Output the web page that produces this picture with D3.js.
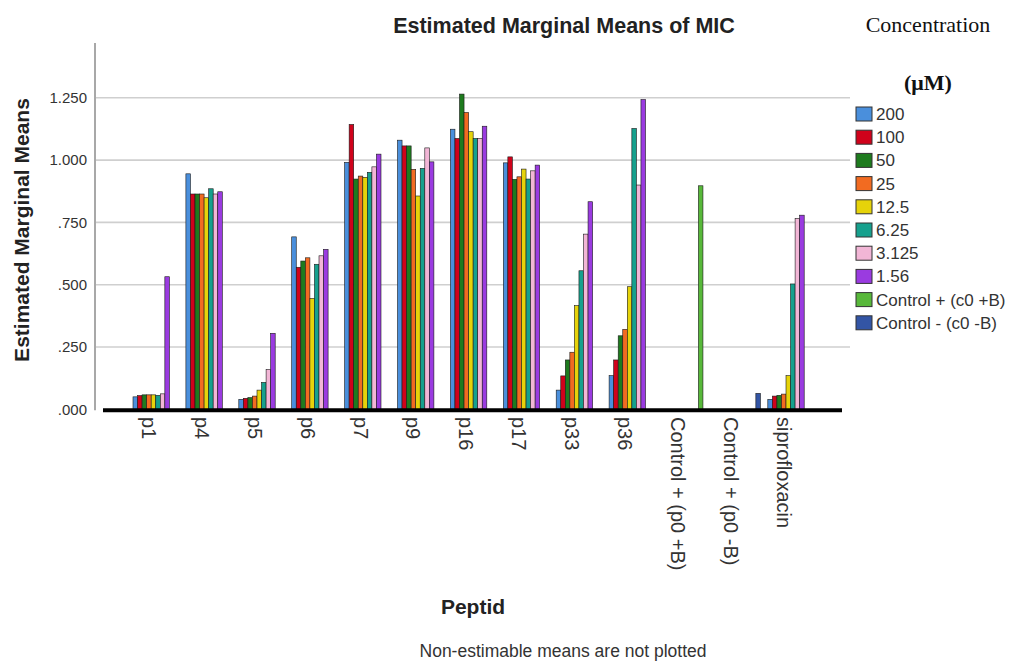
<!DOCTYPE html>
<html>
<head>
<meta charset="utf-8">
<script src="https://cdn.jsdelivr.net/npm/d3@7"></script>
<style>
  body { margin: 0; background: #fff; }
  svg { display: block; font-family: Arial, "Liberation Sans", sans-serif; }
</style>
</head>
<body>
<svg id="chart" width="1013" height="661"></svg>
<script>
// categories on the x axis
const categories = ['p1', 'p4', 'p5', 'p6', 'p7', 'p9', 'p16', 'p17', 'p33', 'p36',
  'Control + (p0 +B)', 'Control + (p0 -B)', 'siprofloxacin'];

// concentration levels (legend order)
const seriesNames = ['200', '100', '50', '25', '12.5', '6.25', '3.125', '1.56',
  'Control + (c0 +B)', 'Control - (c0 -B)'];
const seriesColors = ['#4a8fdc', '#d0021b', '#1e7b1e', '#f26b21', '#e6d30a',
  '#16a08d', '#f2b6d6', '#9a3be0', '#58b83a', '#3355a5'];

// estimated marginal means, one value per category (null = non-estimable)
const c200   = [.050, .945, .040, .692, .991, 1.080, 1.124, .989, .077, .135, null, null, .040];
const c100   = [.055, .864, .044, .570, 1.143, 1.057, 1.087, 1.013, .134, .198, null, null, .053];
const c50    = [.058, .864, .047, .595, .924, 1.057, 1.265, .923, .198, .295, null, null, .056];
const c25    = [.058, .864, .053, .608, .936, .963, 1.191, .933, .229, .321, null, null, .061];
const c12_5  = [.058, .849, .077, .445, .931, .856, 1.114, .964, .416, .492, null, null, .135];
const c6_25  = [.056, .885, .108, .582, .951, .967, 1.087, .924, .556, 1.127, null, null, .503];
const c3_125 = [.062, .864, .160, .616, .973, 1.049, 1.087, .957, .703, .900, null, null, .766];
const c1_56  = [.532, .873, .305, .642, 1.024, .993, 1.136, .980, .833, 1.243, null, null, .779];
const ctrlPos = [null, null, null, null, null, null, null, null, null, null, .897, null, null];
const ctrlNeg = [null, null, null, null, null, null, null, null, null, null, null, .064, null];
const seriesValues = [c200, c100, c50, c25, c12_5, c6_25, c3_125, c1_56, ctrlPos, ctrlNeg];

// y axis ticks
const yTicks = [0, .25, .5, .75, 1, 1.25];

// layout
const plot = { left: 95, right: 850, top: 43, base: 409.3 };

const svg = d3.select('#chart');

const y = d3.scaleLinear().domain([0, 1.47]).range([plot.base, plot.top]);
const x = d3.scaleBand().domain(categories).range([133, 813.3]).paddingInner(0.14).paddingOuter(0);
const inner = d3.scaleBand().domain(seriesNames).range([0, x.bandwidth()]).padding(0);
const color = d3.scaleOrdinal().domain(seriesNames).range(seriesColors);

// gridlines
svg.append('g')
  .selectAll('line')
  .data(yTicks.filter(d => d > 0))
  .join('line')
  .attr('x1', plot.left).attr('x2', plot.right)
  .attr('y1', d => y(d)).attr('y2', d => y(d))
  .attr('stroke', '#cfcfcf').attr('stroke-width', 1.6);

// y axis
const yAxis = d3.axisLeft(y)
  .tickValues(yTicks)
  .tickSize(0)
  .tickPadding(8)
  .tickFormat(d => d3.format('.3f')(d).replace(/^0/, ''));
const yAxisNode = svg.append('g')
  .attr('transform', `translate(${plot.left},0)`)
  .call(yAxis);
yAxisNode.select('.domain').remove();
yAxisNode.selectAll('text')
  .style('font-size', '15px')
  .attr('fill', '#333');
svg.append('line')
  .attr('x1', plot.left).attr('x2', plot.left)
  .attr('y1', y(1.47)).attr('y2', plot.base + 1)
  .attr('stroke', '#a8a8a8').attr('stroke-width', 2);

// bars
const barData = [];
seriesNames.forEach((s, si) => {
  seriesValues[si].forEach((v, ci) => {
    if (v !== null) barData.push({ cat: categories[ci], series: s, value: v });
  });
});
svg.append('g')
  .selectAll('rect')
  .data(barData)
  .join('rect')
  .attr('x', d => x(d.cat) + inner(d.series))
  .attr('y', d => y(d.value))
  .attr('width', inner.bandwidth())
  .attr('height', d => y(0) - y(d.value))
  .attr('fill', d => color(d.series))
  .attr('stroke', '#1a1a1a')
  .attr('stroke-width', 0.6);

// baseline
svg.append('line')
  .attr('x1', 103).attr('x2', 842)
  .attr('y1', plot.base + 1).attr('y2', plot.base + 1)
  .attr('stroke', '#000').attr('stroke-width', 4);

// x tick labels (rotated)
svg.append('g')
  .selectAll('text')
  .data(categories)
  .join('text')
  .attr('transform', d => `translate(${x(d) + inner.bandwidth() * 3.5},417) rotate(90)`)
  .attr('dy', '0.35em')
  .attr('text-anchor', 'start')
  .style('font-size', '20px')
  .attr('fill', '#333')
  .text(d => d);

// titles
svg.append('text')
  .attr('x', 564).attr('y', 33)
  .attr('text-anchor', 'middle')
  .style('font-size', '21.5px').style('font-weight', 'bold')
  .attr('fill', '#222')
  .text('Estimated Marginal Means of MIC');

svg.append('text')
  .attr('transform', 'translate(29,230) rotate(-90)')
  .attr('text-anchor', 'middle')
  .style('font-size', '21px').style('font-weight', 'bold')
  .attr('fill', '#222')
  .text('Estimated Marginal Means');

svg.append('text')
  .attr('x', 473).attr('y', 614)
  .attr('text-anchor', 'middle')
  .style('font-size', '21px').style('font-weight', 'bold')
  .attr('fill', '#222')
  .text('Peptid');

svg.append('text')
  .attr('x', 563).attr('y', 657)
  .attr('text-anchor', 'middle')
  .style('font-size', '17.5px')
  .attr('fill', '#333')
  .text('Non-estimable means are not plotted');

// legend
svg.append('text')
  .attr('x', 928).attr('y', 32)
  .attr('text-anchor', 'middle')
  .style('font-family', '"Liberation Serif", "Times New Roman", serif')
  .style('font-size', '22px')
  .attr('fill', '#111')
  .text('Concentration');
svg.append('text')
  .attr('x', 928).attr('y', 90)
  .attr('text-anchor', 'middle')
  .style('font-family', '"Liberation Serif", "Times New Roman", serif')
  .style('font-size', '22px').style('font-weight', 'bold')
  .attr('fill', '#111')
  .text('(μM)');

const legend = svg.append('g')
  .selectAll('g')
  .data(seriesNames)
  .join('g')
  .attr('transform', (d, i) => `translate(856,${114 + i * 23.2})`);
legend.append('rect')
  .attr('x', 0).attr('y', -7)
  .attr('width', 16).attr('height', 14)
  .attr('fill', d => color(d))
  .attr('stroke', '#333').attr('stroke-width', 1);
legend.append('text')
  .attr('x', 20).attr('dy', '0.35em')
  .style('font-size', '17px')
  .attr('fill', '#333')
  .text(d => d);
</script>
</body>
</html>
